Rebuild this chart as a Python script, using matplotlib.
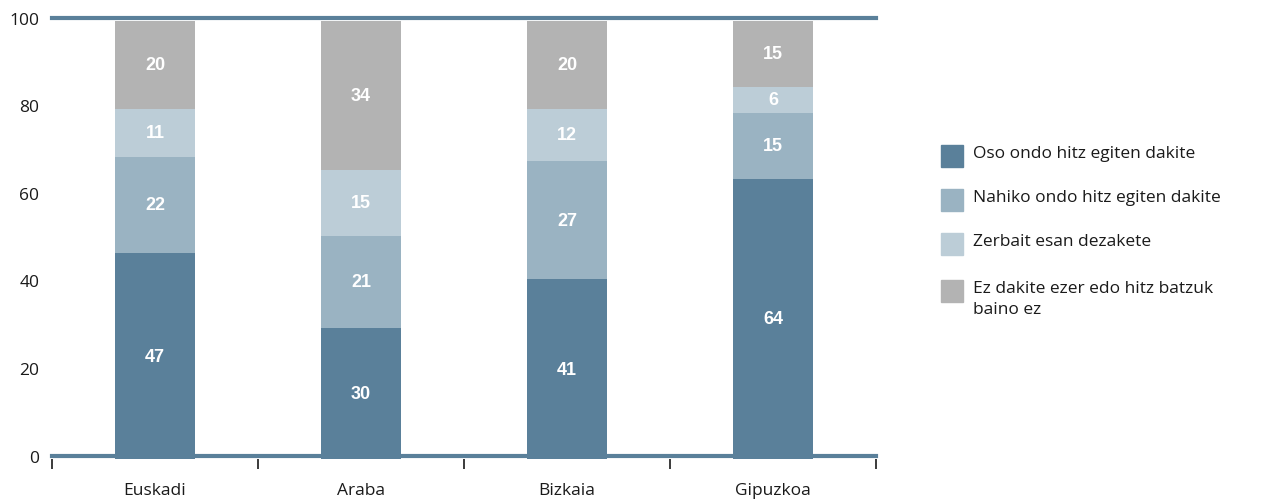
import matplotlib.pyplot as plt
from matplotlib.patches import Rectangle
from matplotlib.transforms import ScaledTranslation

regions = ["Euskadi", "Araba", "Bizkaia", "Gipuzkoa"]
series_names = [
    "Oso ondo hitz egiten dakite",
    "Nahiko ondo hitz egiten dakite",
    "Zerbait esan dezakete",
    "Ez dakite ezer edo hitz batzuk\nbaino ez",
]
oso_ondo = [47, 30, 41, 64]
nahiko_ondo = [22, 21, 27, 15]
zerbait = [11, 15, 12, 6]
ez_dakite = [20, 34, 20, 15]
y_ticks = [0, 20, 40, 60, 80, 100]

colors = ["#5a809a", "#9ab3c2", "#bccdd7", "#b3b3b3"]
text_color = "#1a1a1a"
label_font = "Open Sans"

fig = plt.figure(figsize=(12.66, 5.02), dpi=100)
ax = fig.add_axes([52 / 1266, 42 / 502, (876 - 52) / 1266, (460 - 22) / 502])

x = list(range(len(regions)))
bottoms = [0] * len(regions)
for values, color in zip([oso_ondo, nahiko_ondo, zerbait, ez_dakite], colors):
    ax.bar(x, values, bottom=bottoms, width=0.385, color=color, zorder=2)
    for xi, b, v in zip(x, bottoms, values):
        ax.text(xi, b + v / 2, str(v), ha="center", va="center", color="white",
                fontsize=13, fontweight="bold", family="Liberation Sans", zorder=4)
    bottoms = [b + v for b, v in zip(bottoms, values)]

# the frame lines sit a couple of pixels above their values in the original
up = ScaledTranslation(0, 2.2 / 72, fig.dpi_scale_trans)
for yv, z in [(100, 3), (0, 1)]:
    ln = ax.axhline(yv, color=colors[0], lw=3, zorder=z, clip_on=False)
    ln.set_transform(ln.get_transform() + up)

ax.set_xlim(-0.5, len(regions) - 0.5)
ax.set_ylim(0, 100)
for s in ax.spines.values():
    s.set_visible(False)

ax.set_yticks(y_ticks)
ax.set_yticklabels([str(t) for t in y_ticks], fontsize=12.5, family=label_font, color=text_color)
ax.tick_params(axis="y", length=0, pad=9)
for lab in ax.get_yticklabels():
    lab.set_transform(lab.get_transform() + ScaledTranslation(0, 2.5 / 72, fig.dpi_scale_trans))

ax.set_xticks([i - 0.5 for i in range(len(regions) + 1)])
ax.set_xticklabels([])
ax.tick_params(axis="x", length=7, width=1.2, color=text_color, direction="out")
for xi, name in zip(x, regions):
    ax.annotate(name, (xi, 0), xycoords=("data", "axes fraction"), xytext=(0, -22),
                textcoords="offset points", ha="center", va="center",
                fontsize=12.5, family=label_font, color=text_color)

# legend drawn by hand so the wrapped label lines up with its square
W, H = 1266, 502
row_y = [157, 201, 245, 292]
for yc, name, color in zip(row_y, series_names, colors):
    fig.add_artist(Rectangle((941 / W, 1 - (yc + 11) / H), 22 / W, 22 / H,
                             transform=fig.transFigure, color=color))
    fig.text(973 / W, 1 - (yc - 11) / H, name, ha="left", va="top", fontsize=12.5,
             family=label_font, color=text_color, linespacing=1.45)

fig.savefig("out.png", dpi=100)
